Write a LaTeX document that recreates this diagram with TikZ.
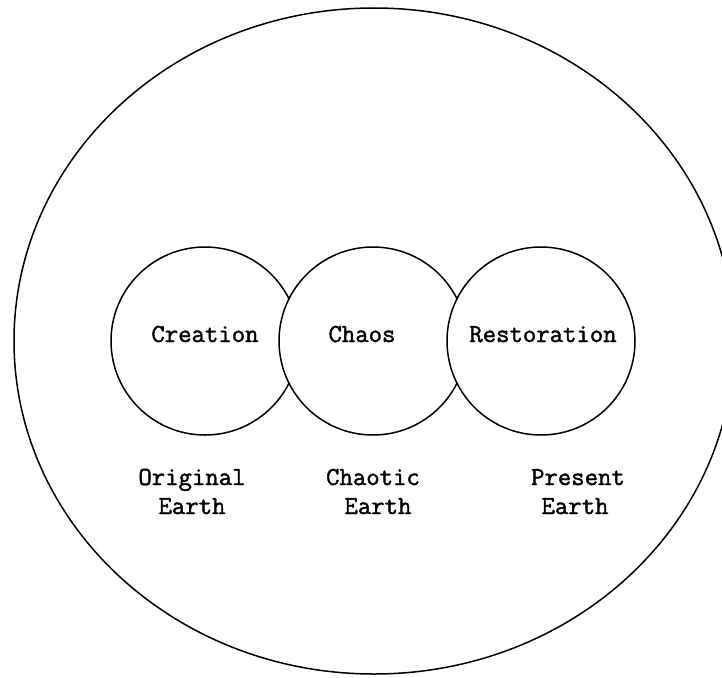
\documentclass[tikz,border=0pt]{standalone}
\usepackage{fontspec}
\newfontfamily\labfont{Latin Modern Mono}[FakeBold=1.5]
\begin{document}
\begin{tikzpicture}[x=1pt,y=-1pt,
  ring/.style={circle,draw=black,fill=white,line width=1.5pt,minimum size=188pt,inner sep=0pt},
  lab/.style={font=\labfont\fontsize{26}{29}\selectfont,inner sep=0pt,anchor=base,text=black}]
\useasboundingbox (0,0) rectangle (722,677);
\fill[white] (0,0) rectangle (722,677);
\begin{scope}
\clip (0,0) rectangle (722,677);
\draw[line width=1.5pt] (374,341) ellipse [x radius=360, y radius=333];
\end{scope}
\node[ring] (creation) at (205,341) {};
\node[ring] (chaos) at (373,341) {};
\node[ring] (restoration) at (541,341) {};
\node[lab] (tcre) at (205,342) {Creation};
\node[lab] (tcha) at (362,342) {Chaos};
\node[lab] (tres) at (543,342) {Restoration};
\node[lab] (orig1) at (192,485) {Original};
\node[lab] (orig2) at (192,514) {Earth};
\node[lab] (chao1) at (373,485) {Chaotic};
\node[lab] (chao2) at (378,514) {Earth};
\node[lab] (pres1) at (578,485) {Present};
\node[lab] (pres2) at (575,514) {Earth};
\end{tikzpicture}
\end{document}
